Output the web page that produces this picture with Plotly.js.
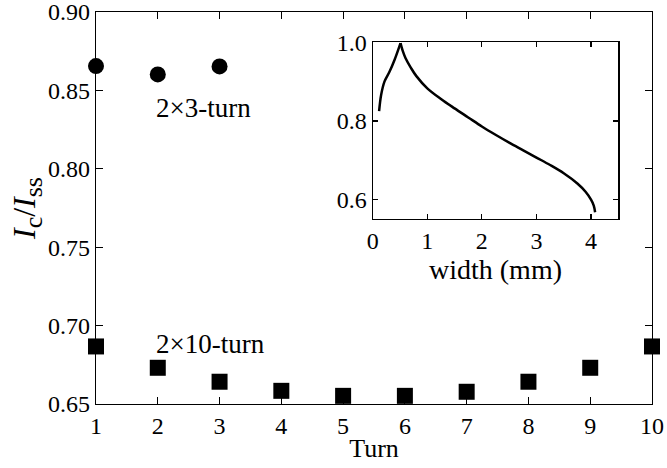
<!DOCTYPE html>
<html>
<head>
<meta charset="utf-8">
<script src="https://cdn.plot.ly/plotly-3.0.1.min.js"></script>
<style>html,body{margin:0;padding:0;background:#fff;}#chart{width:667px;height:468px;}</style>
</head>
<body>
<div id="chart"></div>
<script>
// Main chart data
const turns3 = [1, 2, 3];
const ratio3 = [0.8655, 0.8602, 0.8653];
const turns10 = [1, 2, 3, 4, 5, 6, 7, 8, 9, 10];
const ratio10 = [0.6867, 0.6731, 0.6642, 0.6584, 0.6552, 0.6552, 0.6578, 0.6642, 0.6731, 0.6867];
const yTicks = [0.65, 0.70, 0.75, 0.80, 0.85, 0.90];
// Inset curve: rising branch and falling branch (share the peak point)
const widthRise = [0.117, 0.154, 0.215, 0.307, 0.399, 0.509];
const ratioRise = [0.825, 0.866, 0.900, 0.925, 0.955, 0.998];
const widthFall = [0.509, 0.55, 0.6, 0.7, 0.8, 1.0, 1.25, 1.5, 1.75, 2.0, 2.25, 2.5, 2.75, 3.0, 3.25, 3.5, 3.75, 3.9, 4.0, 4.05, 4.075];
const ratioFall = [0.998, 0.978, 0.960, 0.935, 0.914, 0.883, 0.856, 0.832, 0.809, 0.786, 0.765, 0.745, 0.726, 0.707, 0.688, 0.667, 0.641, 0.620, 0.600, 0.585, 0.568];
const insetXTicks = [0, 1, 2, 3, 4];
const insetYTicks = [0.6, 0.8, 1.0];
// Labels
const label3 = "2×3-turn";
const label10 = "2×10-turn";

const FONT = "Liberation Serif, Times New Roman, serif";

const traces = [
  {x: turns3, y: ratio3, type: "scatter", mode: "markers", cliponaxis: false,
   marker: {symbol: "circle", size: 16, color: "#000"}, xaxis: "x", yaxis: "y"},
  {x: turns10, y: ratio10, type: "scatter", mode: "markers", cliponaxis: false,
   marker: {symbol: "square", size: 16, color: "#000"}, xaxis: "x", yaxis: "y"},
  {x: widthRise, y: ratioRise, type: "scatter", mode: "lines",
   line: {color: "#000", width: 2.5, shape: "spline", smoothing: 1}, xaxis: "x2", yaxis: "y2"},
  {x: widthFall, y: ratioFall, type: "scatter", mode: "lines",
   line: {color: "#000", width: 2.5, shape: "spline", smoothing: 1}, xaxis: "x2", yaxis: "y2"}
];

function ax(extra) {
  return Object.assign({
    showgrid: false, zeroline: false, showline: true, linecolor: "#000", linewidth: 1.2,
    mirror: "ticks", ticks: "inside", tickcolor: "#000", tickwidth: 1.2,
    ticklabeloverflow: "allow",
    tickfont: {family: FONT, size: 24, color: "#000"}
  }, extra);
}

const layout = {
  width: 667, height: 468,
  margin: {l: 96, r: 15, t: 12, b: 64},
  paper_bgcolor: "#fff", plot_bgcolor: "#fff",
  showlegend: false,
  font: {family: FONT, color: "#000"},
  xaxis: ax({
    domain: [0, 1], range: [1, 10], tickvals: turns10, ticklen: 7,
    title: {text: "Turn", font: {family: FONT, size: 26}, standoff: 0}
  }),
  yaxis: ax({
    domain: [0, 1], range: [0.65, 0.90], tickvals: yTicks, tickformat: ".2f", ticklen: 7,
    title: {text: "<i>I</i><sub><span style=\"font-size:26px\">c</span></sub>/<i>I</i><sub><span style=\"font-size:26px\">ss</span></sub>",
            font: {family: FONT, size: 32}, standoff: 2}
  }),
  xaxis2: ax({
    domain: [0.4977, 0.9394], anchor: "y2", range: [0, 4.5], tickvals: insetXTicks, ticklen: 5,
    title: {text: "width (mm)", font: {family: FONT, size: 28}, standoff: 0}
  }),
  yaxis2: ax({
    domain: [0.4712, 0.9227], anchor: "x2", range: [0.55, 1.0], tickvals: insetYTicks, tickformat: ".1f", ticklen: 5
  }),
  annotations: [
    {x: 2, y: 0.8385, xref: "x", yref: "y", text: label3, showarrow: false, xanchor: "left", yanchor: "middle",
     xshift: -4, font: {family: FONT, size: 27, color: "#000"}},
    {x: 2, y: 0.6882, xref: "x", yref: "y", text: label10, showarrow: false, xanchor: "left", yanchor: "middle",
     xshift: -4, font: {family: FONT, size: 27, color: "#000"}}
  ]
};

Plotly.newPlot("chart", traces, layout, {displayModeBar: false, staticPlot: true});
</script>
</body>
</html>
